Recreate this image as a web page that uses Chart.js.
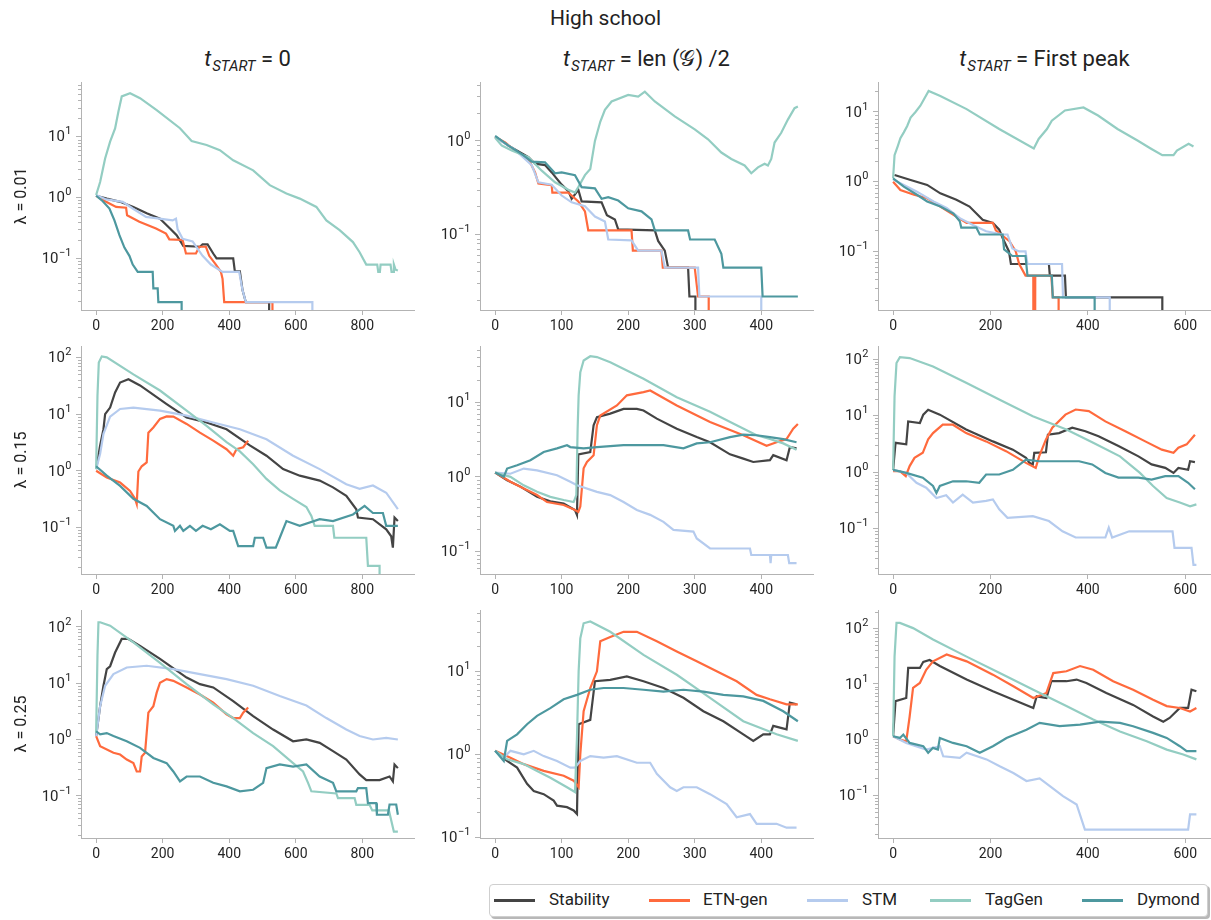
<!DOCTYPE html>
<html>
<head>
<meta charset="utf-8">
<script src="https://cdn.jsdelivr.net/npm/chart.js@4.4.1/dist/chart.umd.min.js"></script>
<style>
body{margin:0;width:1211px;height:920px;overflow:hidden;background:#fff;font-family:Roboto,"DejaVu Sans",sans-serif;color:#222;position:relative}
canvas{position:absolute}
.main{position:absolute;left:0;width:1211px;top:6px;text-align:center;font-size:21px}
.ct{position:absolute;top:46px;text-align:center;font-size:22px;white-space:nowrap}
.ct sub{font-size:15px;vertical-align:-5px;margin-left:1px}
.legend{position:absolute;left:489px;top:884px;width:717px;height:31px;border:1px solid #cfcfcf;border-radius:4px;box-shadow:2px 2px 0 rgba(0,0,0,0.28);background:#fff}
.lh{position:absolute;height:3px;width:41px;top:899px}
.lt{position:absolute;top:889px;font-size:17px;line-height:20px}
</style>
</head>
<body>
<div class="main">High school</div>
<div class="ct" style="left:81px;width:333px"><i>t</i><sub><i>START</i></sub> = 0</div>
<div class="ct" style="left:480px;width:333px"><i>t</i><sub><i>START</i></sub> = len (𝒢) /2</div>
<div class="ct" style="left:878px;width:333px"><i>t</i><sub><i>START</i></sub> = First peak</div>
<div class="legend"></div>
<script>
// series and labels
const seriesNames = ['Stability', 'ETN-gen', 'STM', 'TagGen', 'Dymond']
const seriesColors = ['#444444', '#ff6a3d', '#b5cbee', '#93cdc2', '#4d989f']
const lambdaLabels = ['λ = 0.01', 'λ = 0.15', 'λ = 0.25']
const xTicks = [[0, 200, 400, 600, 800], [0, 100, 200, 300, 400], [0, 200, 400, 600]]
const xLimits = [[-45.5, 955.5], [-22.75, 477.75], [-31, 653]]
// y limits as log10 exponents, row by row
const yLog = [[-1.85, 1.90], [-1.81, 0.63], [-1.84, 1.43],
              [-1.82, 2.20], [-1.30, 1.75], [-1.80, 2.23],
              [-1.75, 2.30], [-1.01, 1.74], [-1.77, 2.33]]

/* lambda = 0.01, t = 0 */
const stab_11 = [[0,1.07],[32,0.96],[72,0.85],[112,0.70],[152,0.55],[192,0.45],[222,0.31],[242,0.24],[262,0.16],[312,0.155],[320,0.17],[335,0.17],[352,0.12],[362,0.10],[412,0.10],[417,0.061],[432,0.061],[440,0.03],[450,0.019],[520,0.019],[520,1e-6]]
const etn_11 = [[0,1.07],[30,0.85],[60,0.70],[90,0.68],[93,0.51],[130,0.40],[180,0.31],[210,0.255],[220,0.205],[260,0.20],[270,0.12],[300,0.12],[310,0.155],[330,0.155],[340,0.11],[360,0.079],[375,0.06],[380,0.046],[385,0.019],[530,0.019],[530,1e-6]]
const stm_11 = [[0,1.1],[30,0.93],[80,0.85],[110,0.66],[150,0.48],[190,0.45],[230,0.42],[240,0.45],[245,0.3],[260,0.21],[290,0.19],[320,0.11],[345,0.079],[380,0.06],[430,0.06],[440,0.03],[450,0.019],[650,0.019],[650,1e-6]]
const tag_11 = [[0,1.1],[12,1.8],[27,4.4],[42,8.3],[57,13.7],[67,26],[77,46],[102,52],[132,43],[182,27.5],[252,13.8],[287,8.5],[332,7.3],[372,6.0],[412,4.1],[472,2.8],[522,1.6],[572,1.16],[612,0.96],[662,0.70],[692,0.42],[732,0.29],[772,0.185],[792,0.126],[812,0.079],[845,0.079],[848,0.06],[853,0.06],[855,0.079],[885,0.079],[888,0.06],[893,0.06],[895,0.079],[900,0.065],[907,0.063]]
const dym_11 = [[0,1.07],[20,0.87],[40,0.66],[55,0.42],[70,0.24],[85,0.15],[100,0.11],[110,0.079],[125,0.06],[170,0.06],[172,0.032],[185,0.032],[187,0.019],[257,0.019],[257,1e-6]]

/* lambda = 0.01, t = len/2 */
const stab_12 = [[0,1.11],[20,0.89],[50,0.67],[60,0.57],[75,0.55],[85,0.46],[100,0.34],[110,0.29],[115,0.24],[125,0.30],[130,0.225],[160,0.22],[168,0.16],[180,0.144],[185,0.113],[240,0.11],[245,0.085],[255,0.067],[260,0.044],[290,0.044],[292,0.0216],[301,0.0216],[301,1e-6]]
const etn_12 = [[0,1.1],[15,0.96],[30,0.785],[50,0.64],[60,0.46],[65,0.35],[85,0.335],[86,0.28],[110,0.28],[125,0.225],[135,0.176],[140,0.11],[205,0.11],[207,0.067],[250,0.067],[252,0.044],[300,0.044],[305,0.0216],[321,0.0216],[321,1e-6]]
const stm_12 = [[0,1.1],[30,0.8],[55,0.55],[65,0.36],[85,0.34],[100,0.26],[115,0.22],[135,0.2],[150,0.155],[165,0.137],[170,0.088],[205,0.086],[215,0.067],[250,0.067],[255,0.044],[305,0.044],[307,0.0216],[400,0.0216],[400,1e-6]]
const tag_12 = [[0,1.08],[10,0.89],[25,0.79],[50,0.67],[70,0.48],[90,0.36],[110,0.30],[120,0.28],[125,0.32],[135,0.43],[143,0.5],[150,1.0],[158,1.6],[165,2.15],[175,2.64],[200,3.1],[215,2.98],[225,3.36],[240,2.64],[270,1.83],[300,1.33],[320,1.04],[340,0.75],[355,0.64],[375,0.545],[385,0.45],[395,0.52],[405,0.57],[410,0.545],[415,0.64],[420,0.96],[430,1.22],[440,1.69],[450,2.24],[455,2.33]]
const dym_12 = [[0,1.13],[20,0.89],[40,0.72],[55,0.6],[75,0.59],[90,0.45],[100,0.46],[120,0.43],[130,0.32],[150,0.31],[160,0.24],[170,0.25],[185,0.23],[200,0.19],[220,0.176],[235,0.144],[240,0.11],[290,0.11],[293,0.088],[330,0.088],[340,0.062],[343,0.044],[400,0.044],[402,0.0216],[455,0.0216]]

/* lambda = 0.01, t = first peak */
const stab_13 = [[3,1.25],[36,1.06],[70,0.9],[97,0.68],[130,0.55],[157,0.44],[184,0.285],[205,0.256],[218,0.205],[225,0.156],[238,0.10],[242,0.066],[320,0.066],[322,0.045],[353,0.045],[355,0.022],[553,0.022],[553,1e-6]]
const etn_13 = [[0,1.0],[15,0.76],[43,0.65],[70,0.58],[97,0.44],[124,0.335],[151,0.256],[205,0.256],[211,0.2],[239,0.14],[252,0.10],[259,0.066],[272,0.045],[288,0.045],[289,1e-6],[291,1e-6],[292,0.045],[325,0.045],[328,0.022],[340,0.022],[340,1e-6]]
const stm_13 = [[0,1.08],[22,0.9],[49,0.72],[83,0.52],[110,0.42],[137,0.30],[164,0.24],[191,0.195],[225,0.175],[235,0.175],[245,0.11],[259,0.10],[272,0.10],[276,0.066],[347,0.066],[349,0.022],[445,0.022],[445,1e-6]]
const tag_13 = [[0,1.12],[3,2.4],[10,3.3],[15,4.2],[22,5.1],[29,6.3],[36,8.3],[46,10],[56,12.3],[73,20],[97,17],[151,11],[218,5.7],[289,3.0],[299,4.1],[316,5.7],[326,7.5],[353,10.5],[391,11.6],[421,8.9],[461,5.7],[502,3.9],[529,3.0],[553,2.4],[576,2.4],[583,2.8],[607,3.5],[617,3.2]]
const dym_13 = [[0,1.12],[22,0.85],[49,0.65],[70,0.52],[97,0.44],[124,0.35],[137,0.27],[140,0.22],[171,0.22],[178,0.175],[225,0.175],[228,0.107],[245,0.086],[272,0.086],[276,0.045],[326,0.045],[328,0.022],[414,0.022],[414,1e-6]]

/* lambda = 0.15, t = 0 */
const stab_21 = [[0,1.07],[12,2.8],[22,5.4],[27,10],[42,13],[57,24],[72,36],[97,41],[132,32],[212,15],[272,8.7],[332,7.1],[392,5.4],[462,2.8],[512,1.84],[562,1.07],[612,0.82],[672,0.67],[712,0.51],[752,0.36],[782,0.21],[787,0.15],[832,0.14],[872,0.093],[887,0.07],[892,0.044],[897,0.15],[907,0.13]]
const etn_21 = [[0,1.0],[32,0.76],[72,0.62],[102,0.44],[117,0.32],[122,0.26],[127,0.97],[137,1.2],[152,1.4],[157,4.7],[172,5.8],[192,8.2],[212,9.1],[232,9.0],[272,6.7],[312,4.7],[352,3.4],[392,2.4],[412,1.84],[422,2.4],[442,2.6],[457,3.4]]
const stm_21 = [[0,1.07],[12,2.0],[22,4.5],[42,9],[72,12.3],[112,13],[192,11.5],[272,9.4],[352,7.1],[432,5.4],[512,3.6],[592,1.84],[672,1.07],[752,0.58],[792,0.48],[832,0.55],[872,0.41],[907,0.21]]
const tag_21 = [[0,1.07],[4,21],[8,81],[17,104],[32,100],[112,50],[192,26],[272,11.5],[332,6.2],[392,3.2],[432,2.2],[472,1.3],[512,0.72],[552,0.45],[592,0.32],[632,0.23],[647,0.16],[657,0.107],[712,0.107],[716,0.066],[812,0.066],[817,0.021],[852,0.021],[852,1e-6]]
const dym_21 = [[0,1.2],[32,0.82],[72,0.54],[112,0.32],[152,0.24],[192,0.14],[232,0.107],[237,0.087],[252,0.107],[262,0.087],[282,0.107],[300,0.087],[320,0.107],[345,0.093],[372,0.114],[402,0.087],[412,0.087],[427,0.047],[472,0.047],[477,0.066],[502,0.066],[512,0.044],[540,0.044],[552,0.066],[572,0.13],[612,0.107],[672,0.14],[712,0.13],[772,0.17],[807,0.24],[832,0.18],[862,0.18],[872,0.107],[907,0.107]]

/* lambda = 0.15, t = len/2 */
const stab_22 = [[0,1.14],[18,0.9],[38,0.74],[63,0.54],[83,0.47],[103,0.44],[120,0.36],[123,0.31],[125,2.0],[143,2.15],[148,4.9],[153,6.3],[173,7.0],[193,8.1],[213,8.1],[223,7.7],[243,6.0],[273,4.4],[303,3.4],[323,2.9],[353,2.0],[373,1.75],[388,1.58],[413,1.67],[418,1.95],[438,1.67],[443,2.5],[453,2.4]]
const etn_22 = [[0,1.14],[23,0.86],[43,0.70],[63,0.57],[78,0.46],[103,0.42],[120,0.36],[125,0.34],[128,0.40],[133,1.3],[138,1.58],[148,1.94],[153,4.9],[158,6.6],[183,9.0],[198,12.3],[223,13.6],[233,14.3],[273,9.0],[323,5.4],[373,3.6],[408,2.6],[423,2.9],[438,3.2],[448,4.4],[455,5.1]]
const stm_22 = [[0,1.14],[23,1.1],[43,1.29],[63,1.22],[93,1.05],[113,0.86],[123,0.77],[153,0.63],[173,0.57],[193,0.46],[213,0.36],[233,0.31],[253,0.25],[268,0.195],[298,0.185],[303,0.15],[323,0.11],[383,0.11],[385,0.09],[413,0.09],[414,0.07],[415,0.09],[440,0.09],[442,0.07],[453,0.07]]
const tag_22 = [[0,1.14],[23,1.0],[43,0.77],[63,0.63],[83,0.54],[103,0.49],[118,0.46],[122,0.57],[124,4.4],[125.5,12.3],[128,25],[133,36],[143,41],[153,40],[173,34],[223,20.5],[273,11.6],[323,7.4],[363,4.9],[393,3.6],[413,3.2],[433,2.8],[453,2.3]]
const dym_22 = [[0,1.14],[13,1.0],[18,1.29],[33,1.43],[53,1.67],[73,2.15],[93,2.4],[108,2.65],[113,2.5],[133,2.4],[153,2.5],[193,2.65],[223,2.65],[253,2.65],[283,2.4],[303,2.8],[323,2.9],[353,3.4],[373,3.67],[393,3.6],[413,3.4],[433,3.2],[453,2.9]]

/* lambda = 0.15, t = first peak */
const stab_23 = [[0,1.1],[5,3.3],[27,3.1],[31,7.9],[55,7.4],[62,10.4],[72,12.7],[96,10.4],[150,5.7],[205,3.5],[246,2.5],[273,1.8],[280,1.46],[287,1.37],[290,2.2],[314,2.25],[318,4.6],[341,4.9],[368,6.1],[395,5.3],[422,4.3],[463,2.9],[504,1.9],[531,1.37],[559,1.19],[576,0.97],[586,1.19],[606,1.1],[610,1.56],[620,1.5]]
const etn_23 = [[0,1.04],[14,1.04],[26,0.85],[34,1.28],[44,1.79],[61,2.2],[72,3.8],[82,4.9],[102,6.9],[123,6.9],[150,4.9],[191,3.5],[232,2.35],[273,1.46],[293,1.19],[300,1.9],[314,3.8],[327,6.1],[354,10.4],[375,12.8],[402,12.0],[436,7.9],[477,5.3],[518,3.5],[552,2.5],[576,2.2],[586,2.7],[603,3.1],[620,4.6]]
const stm_23 = [[0,1.1],[27,0.97],[48,0.65],[68,0.53],[89,0.35],[109,0.39],[123,0.29],[143,0.4],[164,0.29],[191,0.31],[205,0.33],[218,0.22],[235,0.156],[287,0.167],[320,0.137],[348,0.09],[375,0.07],[436,0.07],[443,0.105],[450,0.07],[485,0.09],[574,0.09],[578,0.046],[613,0.046],[617,0.023],[623,0.023]]
const tag_23 = [[0,1.1],[3,22],[7,85],[14,108],[34,104],[82,74],[150,38],[219,19],[287,9.7],[356,5.7],[411,3.3],[466,1.9],[507,0.97],[534,0.57],[562,0.35],[589,0.29],[610,0.25],[623,0.27]]
const dym_23 = [[0,1.1],[27,0.97],[61,0.8],[82,0.57],[89,0.43],[96,0.57],[123,0.69],[150,0.69],[177,0.65],[191,0.91],[218,0.91],[246,1.1],[273,1.67],[300,1.56],[341,1.56],[382,1.56],[409,1.37],[436,0.97],[463,0.8],[504,0.8],[531,0.74],[559,0.85],[586,0.85],[606,0.65],[620,0.5]]

/* lambda = 0.25, t = 0 */
const stab_31 = [[0,1.15],[12,3.9],[22,9],[32,17.8],[42,20],[57,35],[77,61],[97,61],[132,46],[192,27],[272,12.6],[312,9.6],[352,8.4],[412,4.8],[472,2.6],[532,1.5],[592,0.93],[632,1.0],[672,0.87],[712,0.62],[752,0.44],[792,0.24],[812,0.19],[852,0.19],[882,0.22],[892,0.18],[897,0.36],[907,0.31]]
const etn_31 = [[0,1.15],[12,0.76],[52,0.58],[72,0.54],[92,0.44],[112,0.38],[122,0.27],[132,0.27],[137,0.5],[147,0.58],[157,3.0],[172,3.9],[182,6.8],[192,10.2],[212,11.8],[232,11],[272,8.4],[312,6.3],[352,4.5],[392,2.8],[412,2.4],[432,2.4],[442,3.0],[457,3.7]]
const stm_31 = [[0,1.15],[12,3.9],[27,9],[52,14.5],[92,19],[152,20.4],[232,17.8],[312,14.5],[392,11.8],[472,9],[552,5.9],[632,4.0],[692,2.4],[752,1.5],[792,1.15],[832,1.0],[872,1.07],[907,1.0]]
const tag_31 = [[0,1.3],[4,31],[7,121],[12,121],[42,105],[112,53],[192,23],[272,9.6],[352,4.2],[412,2.4],[472,1.3],[532,0.76],[592,0.38],[622,0.27],[637,0.17],[647,0.12],[722,0.11],[727,0.091],[777,0.091],[782,0.069],[822,0.069],[830,0.055],[880,0.055],[895,0.023],[907,0.023]]
const dym_31 = [[0,1.4],[12,1.23],[32,1.3],[52,1.15],[92,0.93],[132,0.71],[172,0.47],[212,0.38],[232,0.27],[252,0.18],[272,0.22],[312,0.22],[352,0.17],[392,0.147],[432,0.12],[472,0.128],[502,0.17],[512,0.31],[552,0.36],[592,0.33],[632,0.36],[672,0.22],[712,0.17],[722,0.12],[782,0.12],[787,0.137],[812,0.137],[817,0.074],[842,0.074],[844,0.046],[877,0.046],[882,0.07],[902,0.07],[907,0.046]]

/* lambda = 0.25, t = len/2 */
const stab_32 = [[0,1.1],[18,0.83],[33,0.69],[48,0.44],[58,0.36],[73,0.33],[88,0.276],[93,0.24],[108,0.23],[118,0.21],[123,0.19],[125.5,2.3],[143,2.6],[150,7.6],[173,7.9],[198,8.7],[223,7.6],[253,6.3],[283,4.8],[313,3.3],[343,2.5],[373,1.74],[388,1.45],[403,1.74],[413,1.74],[418,2.2],[438,2.0],[443,4.2],[453,4.0]]
const etn_32 = [[0,1.1],[23,0.91],[43,0.76],[73,0.63],[103,0.55],[118,0.48],[125.5,0.4],[128,1.0],[133,3.3],[143,6.3],[153,10],[158,23],[173,26],[193,30],[213,30],[243,23],[273,17.4],[303,13.2],[333,10],[363,7.6],[393,5.2],[413,4.6],[438,4.0],[455,4.0]]
const stm_32 = [[0,1.1],[13,0.91],[23,1.1],[43,1.0],[58,1.1],[73,0.95],[93,0.83],[113,0.69],[120,0.69],[128,0.83],[143,0.95],[163,0.91],[183,0.95],[213,0.79],[233,0.79],[243,0.58],[263,0.4],[273,0.36],[283,0.4],[303,0.4],[323,0.33],[348,0.25],[363,0.174],[383,0.19],[393,0.145],[423,0.145],[438,0.13],[453,0.13]]
const tag_32 = [[0,1.1],[18,0.87],[43,0.76],[63,0.63],[83,0.52],[108,0.4],[120,0.35],[123,1.58],[125.5,10],[128,25],[133,38],[143,40],[173,30],[223,15.8],[273,9.1],[323,4.8],[373,2.5],[423,1.74],[455,1.45]]
const dym_32 = [[0,1.1],[13,0.83],[18,1.45],[33,1.74],[48,2.3],[63,2.9],[83,3.6],[103,4.6],[123,5.2],[143,6.0],[163,6.3],[193,6.3],[223,6.0],[253,5.7],[283,6.0],[313,5.7],[343,5.2],[373,5.0],[403,4.4],[433,3.3],[455,2.5]]

/* lambda = 0.25, t = first peak */
const stab_33 = [[0,1.15],[5,4.9],[27,5.6],[31,19.4],[55,19.4],[62,25],[75,27],[96,21],[151,12],[205,7.4],[247,5.2],[288,3.7],[295,6.0],[315,5.6],[325,11.2],[356,11.2],[377,12],[397,10.4],[438,6.9],[493,4.2],[534,2.6],[555,2.1],[568,2.45],[589,3.7],[606,3.7],[613,7.9],[623,7.4]]
const etn_33 = [[0,1.15],[14,1.0],[27,0.93],[34,2.6],[41,8.5],[55,10.4],[68,18],[82,25.5],[110,34],[151,25.5],[205,14.7],[247,9.1],[288,5.6],[315,6.9],[329,15.7],[356,16.9],[384,21],[411,18],[452,11.2],[493,7.9],[534,5.2],[562,4.0],[589,3.7],[610,3.2],[623,3.7]]
const stm_33 = [[0,1.15],[27,0.87],[68,0.66],[96,0.76],[103,0.5],[137,0.47],[151,0.58],[192,0.44],[219,0.33],[247,0.25],[274,0.18],[301,0.2],[322,0.145],[349,0.096],[377,0.068],[394,0.024],[606,0.024],[610,0.045],[623,0.045]]
const tag_33 = [[0,1.15],[3,31],[7,125],[14,125],[41,101],[82,63],[151,31],[219,15.7],[288,7.9],[356,4.0],[411,2.3],[466,1.4],[521,0.93],[562,0.66],[596,0.54],[623,0.44]]
const dym_33 = [[0,1.15],[14,1.07],[21,1.23],[34,0.87],[62,0.76],[72,0.58],[82,0.71],[92,0.66],[96,1.07],[123,0.87],[151,0.76],[178,0.58],[205,0.76],[233,1.07],[274,1.5],[301,2.0],[342,1.74],[384,1.86],[425,2.1],[466,2.0],[493,1.74],[534,1.32],[562,1.07],[589,0.76],[603,0.62],[623,0.62]]

const panels = [
  [stab_11, etn_11, stm_11, tag_11, dym_11],
  [stab_12, etn_12, stm_12, tag_12, dym_12],
  [stab_13, etn_13, stm_13, tag_13, dym_13],
  [stab_21, etn_21, stm_21, tag_21, dym_21],
  [stab_22, etn_22, stm_22, tag_22, dym_22],
  [stab_23, etn_23, stm_23, tag_23, dym_23],
  [stab_31, etn_31, stm_31, tag_31, dym_31],
  [stab_32, etn_32, stm_32, tag_32, dym_32],
  [stab_33, etn_33, stm_33, tag_33, dym_33]
]

/* layout */
const colLeft = [81, 480, 878]
const rowTop = [82, 346, 610]
const plotW = 333, plotH = 228
const padL = 75, padT = 8, padB = 30, padR = 12
const axisColor = '#b3b3b3'
const labelColor = '#262626'
const tickFont = {family: 'Roboto', size: 14}

// log axis: short minor ticks plus "10^n" labels with a raised exponent
const logAxis = {
  id: 'logAxis',
  afterDraw(chart){
    const ys = chart.scales.y, ctx = chart.ctx, x0 = chart.chartArea.left
    ctx.save()
    ctx.strokeStyle = axisColor
    ctx.lineWidth = 1
    const e0 = Math.floor(Math.log10(ys.min)), e1 = Math.ceil(Math.log10(ys.max))
    for (let e = e0; e <= e1; e++) {
      for (let k = 2; k < 10; k++) {
        const v = k * Math.pow(10, e)
        if (v < ys.min || v > ys.max) continue
        const py = Math.round(ys.getPixelForValue(v)) + 0.5
        ctx.beginPath()
        ctx.moveTo(x0 - 3, py)
        ctx.lineTo(x0, py)
        ctx.stroke()
      }
    }
    ctx.fillStyle = labelColor
    ctx.textBaseline = 'middle'
    ctx.textAlign = 'left'
    ys.ticks.forEach(t => {
      const e = Math.round(Math.log10(t.value))
      const exp = e < 0 ? '\u2212' + (-e) : String(e)
      const py = ys.getPixelForValue(t.value)
      ctx.font = '15px Roboto'
      const wb = ctx.measureText('10').width
      ctx.font = '11px Roboto'
      const we = ctx.measureText(exp).width
      const xs = x0 - 10 - wb - we
      ctx.font = '15px Roboto'
      ctx.fillText('10', xs, py + 1)
      ctx.font = '11px Roboto'
      ctx.fillText(exp, xs + wb + 0.5, py - 5)
    })
    ctx.restore()
  }
}

panels.forEach((series, p) => {
  const r = Math.floor(p / 3), c = p % 3
  const cv = document.createElement('canvas')
  const w = padL + plotW + padR, h = padT + plotH + padB
  cv.width = w
  cv.height = h
  cv.style.left = (colLeft[c] - padL) + 'px'
  cv.style.top = (rowTop[r] - padT) + 'px'
  document.body.appendChild(cv)

  const lo = yLog[p][0], hi = yLog[p][1]
  const majors = []
  for (let e = Math.ceil(lo); e <= Math.floor(hi); e++) majors.push(Math.pow(10, e))

  new Chart(cv, {
    type: 'line',
    data: {
      datasets: series.map((s, i) => ({
        label: seriesNames[i],
        data: s.map(pt => ({x: pt[0], y: pt[1]})),
        borderColor: seriesColors[i],
        backgroundColor: seriesColors[i],
        borderWidth: 2.2,
        pointRadius: 0,
        tension: 0,
        fill: false,
        order: 4 - i
      }))
    },
    options: {
      responsive: false,
      animation: false,
      devicePixelRatio: 1,
      events: [],
      layout: {padding: {left: 0, top: padT, right: padR, bottom: 0}, autoPadding: false},
      plugins: {legend: {display: false}, tooltip: {enabled: false}},
      scales: {
        x: {
          type: 'linear',
          min: xLimits[c][0],
          max: xLimits[c][1],
          afterBuildTicks: s => { s.ticks = xTicks[c].map(v => ({value: v})) },
          afterFit: s => { s.height = padB },
          ticks: {font: tickFont, color: labelColor, padding: 3, maxRotation: 0, autoSkip: false},
          grid: {drawOnChartArea: false, tickLength: 5, color: axisColor},
          border: {color: axisColor}
        },
        y: {
          type: 'logarithmic',
          min: Math.pow(10, lo),
          max: Math.pow(10, hi),
          afterBuildTicks: s => { s.ticks = majors.map(v => ({value: v})) },
          afterFit: s => { s.width = padL },
          ticks: {display: false},
          grid: {drawOnChartArea: false, tickLength: 5, color: axisColor},
          border: {color: axisColor},
          title: {
            display: c === 0,
            text: lambdaLabels[r],
            font: {family: 'Roboto', size: 16},
            color: '#222',
            padding: {top: 6, bottom: 0}
          }
        }
      }
    },
    plugins: [logAxis]
  })
})

/* legend */
const legendHandleX = [494, 649, 807, 930, 1082]
const legendTextX = [549, 703, 862, 985, 1137]
seriesNames.forEach((name, i) => {
  const hd = document.createElement('div')
  hd.className = 'lh'
  hd.style.left = legendHandleX[i] + 'px'
  hd.style.background = seriesColors[i]
  document.body.appendChild(hd)
  const tx = document.createElement('div')
  tx.className = 'lt'
  tx.style.left = legendTextX[i] + 'px'
  tx.textContent = name
  document.body.appendChild(tx)
})
</script>
</body>
</html>
